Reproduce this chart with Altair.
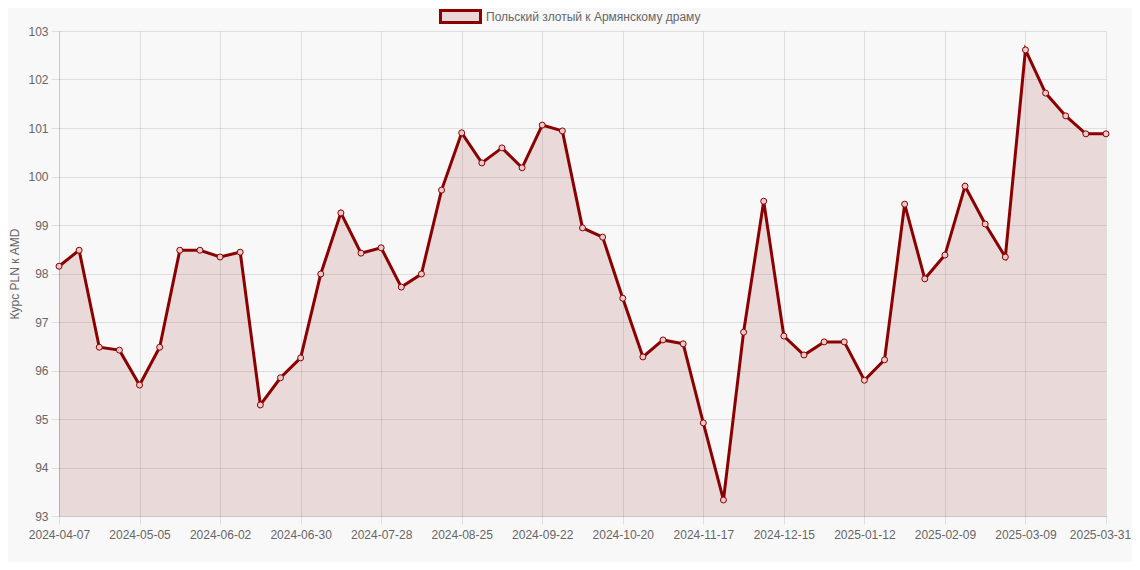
import altair as alt
import pandas as pd
import datetime as dt

start = dt.date(2024, 4, 7)
dates = [(start + dt.timedelta(weeks=k)).isoformat() for k in range(52)] + ["2025-03-31"]

values = [
    98.15, 98.48, 96.48, 96.42, 95.70, 96.48, 98.48, 98.48, 98.34, 98.44,
    95.29, 95.85, 96.26, 97.99, 99.25, 98.42, 98.53, 97.72, 97.99, 99.72,
    100.90, 100.28, 100.59, 100.18, 101.06, 100.94, 98.94, 98.75, 97.49, 96.28,
    96.63, 96.55, 94.92, 93.33, 96.79, 99.49, 96.71, 96.32, 96.59, 96.59,
    95.80, 96.22, 99.43, 97.89, 98.38, 99.80, 99.02, 98.34, 102.61, 101.72,
    101.25, 100.88, 100.88,
]
series_name = "Польский злотый к Армянскому драму"
tick_labels = dates[::4]
y_min, y_max = 93, 103

df = pd.DataFrame({"date": dates, "value": values, "series": series_name})

FONT = "Liberation Sans"
GRID = "rgba(0,0,0,0.1)"
RED = "#8B0000"

x = alt.X(
    "date:O",
    sort=None,
    scale=alt.Scale(type="point", padding=0),
    axis=alt.Axis(
        values=tick_labels, labelAngle=0, labelOverlap=False, title=None,
        grid=True, gridColor=GRID, domainColor=GRID, tickColor=GRID,
        tickSize=8, labelPadding=5, labelColor="#666", labelFontSize=12,
        labelFont=FONT, labelBound=False, labelFlush=False,
        labelOffset={"condition": {"test": "datum.value == '2025-03-31'", "value": -6}, "value": 0},
    ),
)
y = alt.Y(
    "value:Q",
    scale=alt.Scale(domain=[y_min, y_max], zero=False, nice=False),
    axis=alt.Axis(
        values=list(range(y_min, y_max + 1)), title="Курс PLN к AMD",
        grid=True, gridColor=GRID, domainColor=GRID, tickColor=GRID,
        tickSize=8, labelPadding=3, labelColor="#666", labelFontSize=12,
        labelFont=FONT, titleColor="#666", titleFontSize=12, titleFont=FONT,
        titleFontWeight="normal", titleX=-38, titleBaseline="bottom",
    ),
)

base = alt.Chart(df)

area = base.mark_area(color=RED, opacity=0.12).encode(x=x, y=y, y2=alt.datum(y_min))

line = base.mark_line(strokeWidth=3).encode(
    x=x, y=y,
    color=alt.Color(
        "series:N",
        scale=alt.Scale(range=[RED]),
        legend=alt.Legend(
            title=None, orient="none", legendX=380, legendY=-36,
            symbolType="M-1,-0.3H1V0.3H-1Z", symbolSize=1600,
            symbolStrokeWidth=3, symbolStrokeColor=RED,
            symbolFillColor="#ead7d7", symbolOpacity=1,
            labelColor="#666", labelFontSize=12, labelFont=FONT, labelLimit=0,
        ),
    ),
)

points = base.mark_point(
    shape="circle", size=36, filled=False, stroke=RED, strokeWidth=1,
    fill="#e9caca", fillOpacity=1, opacity=1,
).encode(x=x, y=y)

chart = (
    alt.layer(area, line, points)
    .properties(
        width=1047, height=485,
        autosize=alt.AutoSizeParams(type="none"),
        padding={"left": 51, "top": 23, "right": 26, "bottom": 46},
        background="#f8f8f8",
    )
    .configure_view(stroke=None)
)

chart.save("out.html", embed_options={"renderer": "svg", "actions": False})
